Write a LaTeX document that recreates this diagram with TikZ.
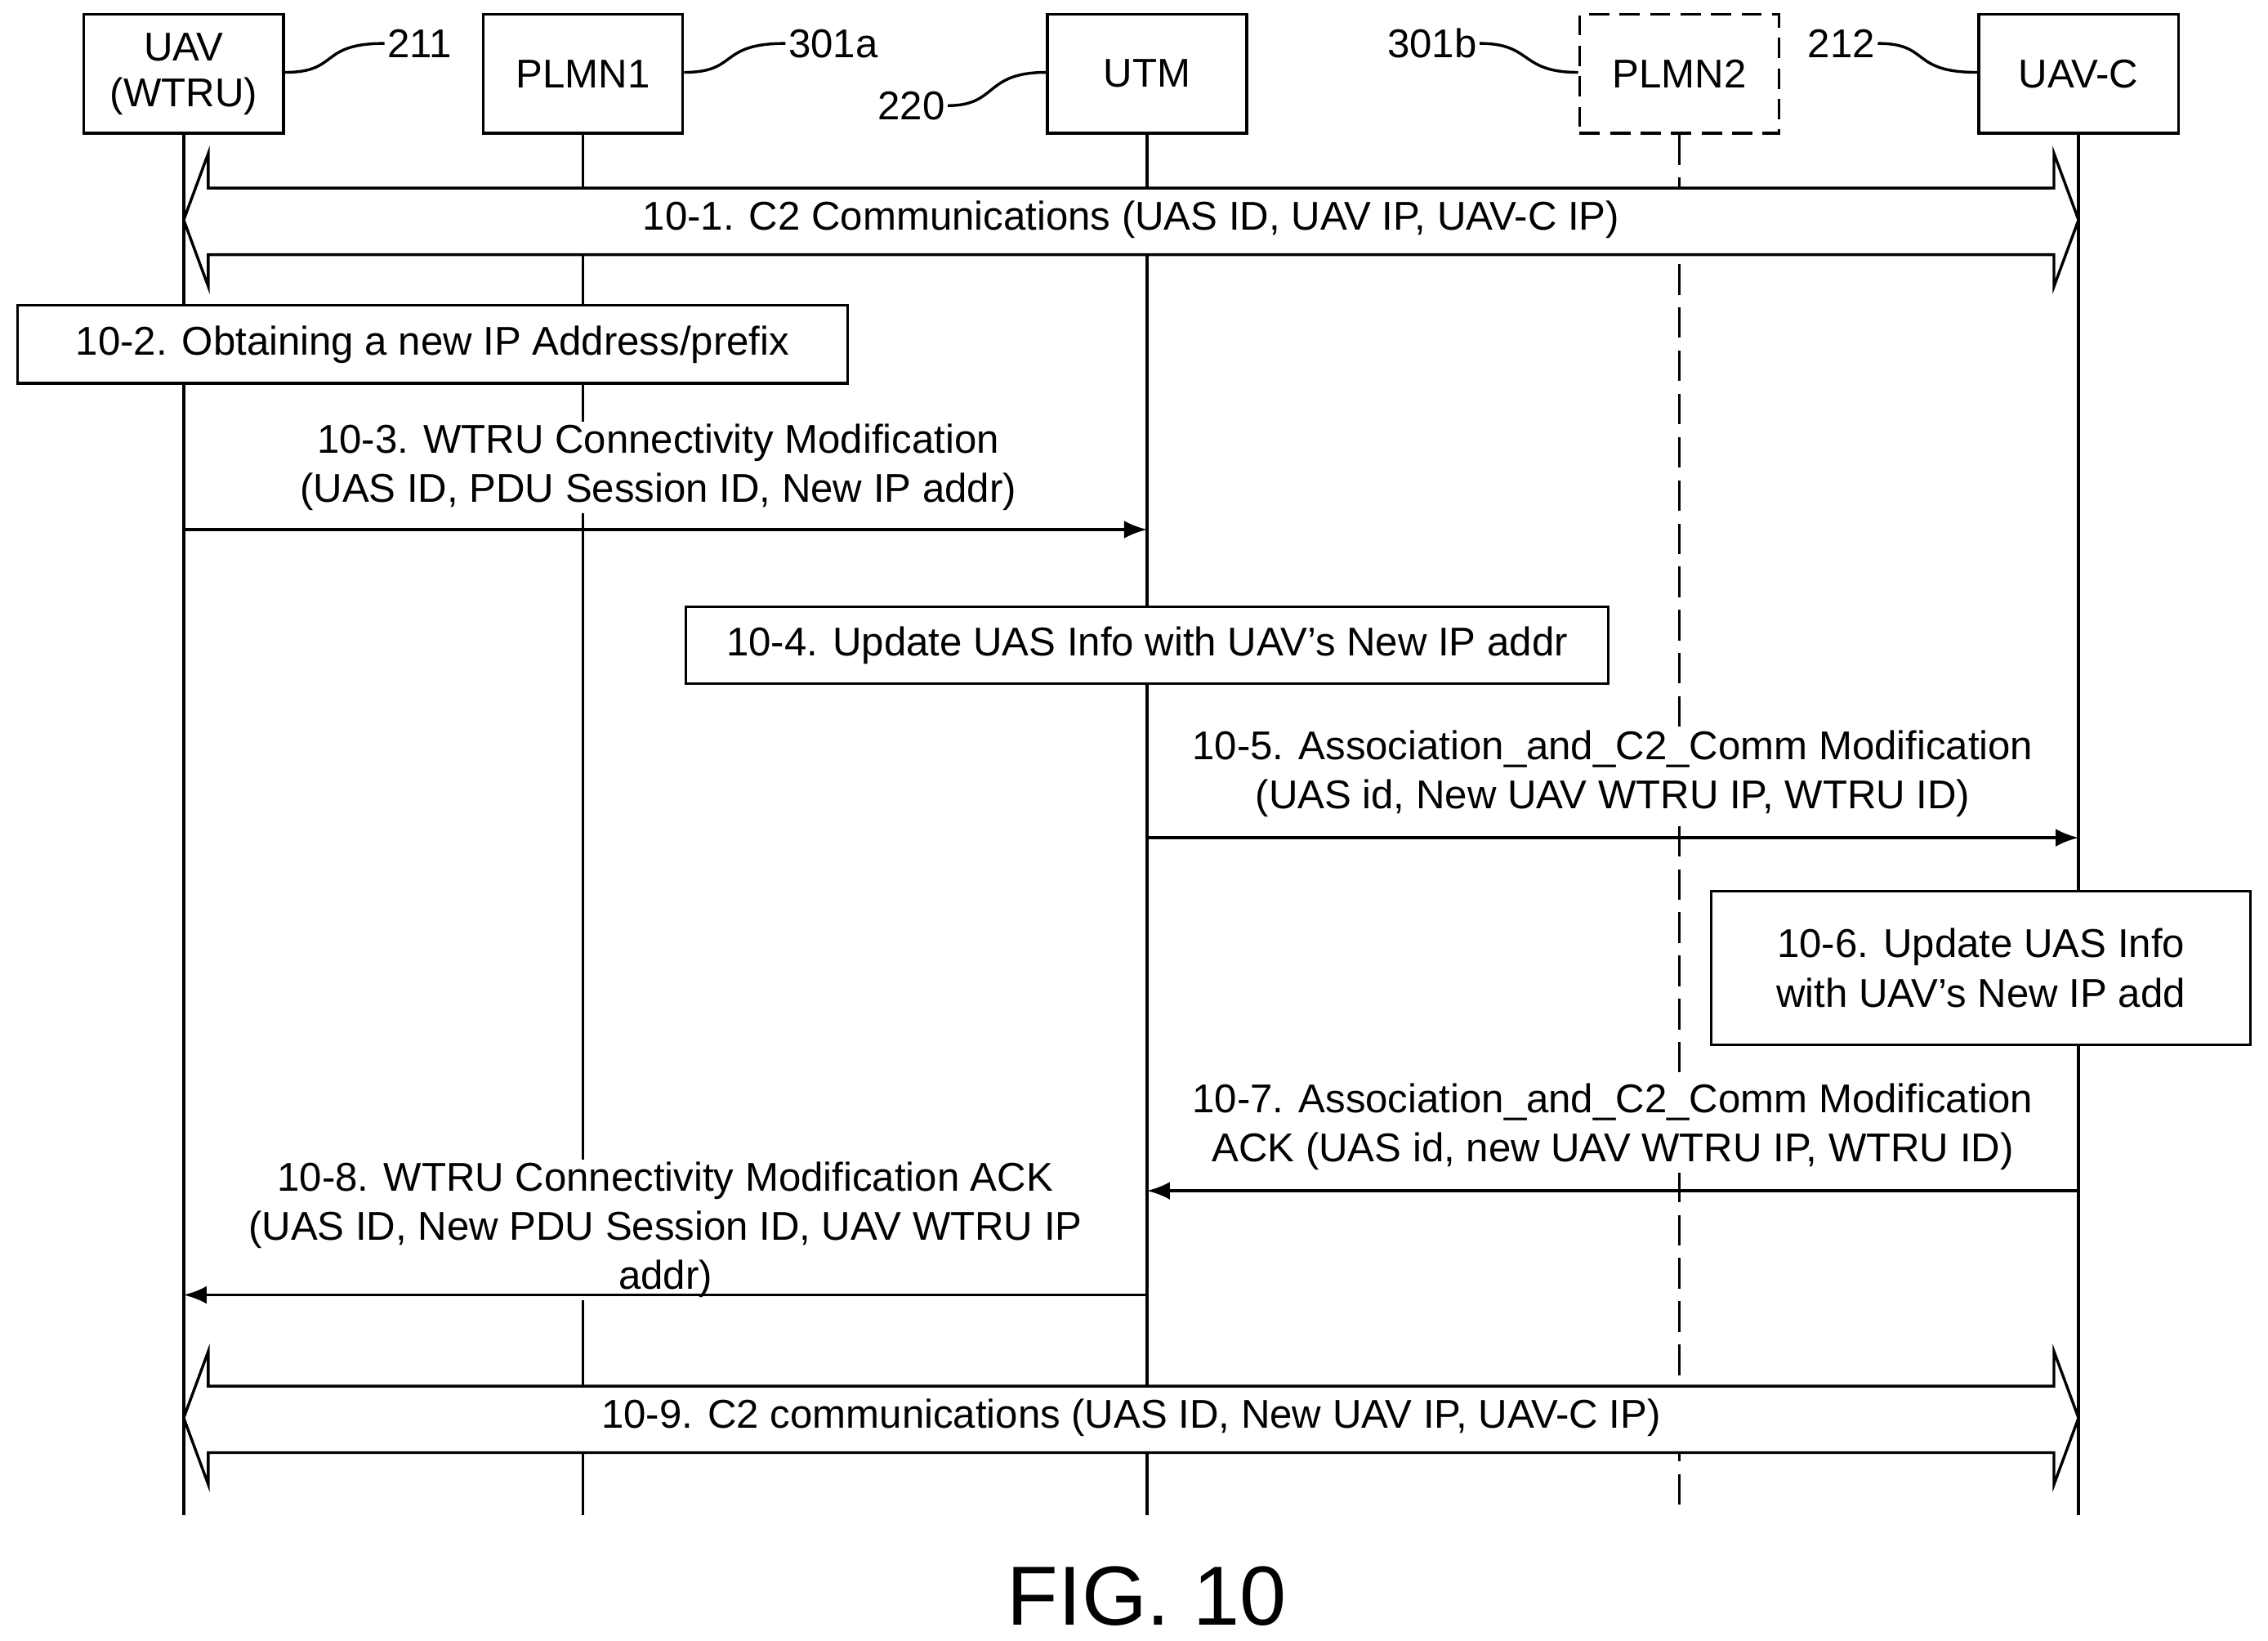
\documentclass[tikz,border=0pt]{standalone}
\usepackage{fontspec}
\setmainfont{Liberation Sans}
\usetikzlibrary{arrows.meta,positioning,calc}

\tikzset{
  ent/.style={draw,line width=1.1pt,minimum width=2.76cm,minimum height=1.64cm,align=center,font=\fontsize{15.8}{18}\selectfont},
  act/.style={draw,fill=white,line width=1.1pt,align=center,inner sep=0pt,font=\fontsize{15.8}{19.3}\selectfont},
  lbl/.style={fill=white,align=center,inner sep=1pt,font=\fontsize{15.8}{19.3}\selectfont},
  msg/.style={line width=1.1pt,-{Latex[length=9pt,width=7pt]}},
  life/.style={line width=1.1pt},
  refn/.style={inner sep=1pt,font=\fontsize{15.8}{18}\selectfont}
}

\begin{document}
\begin{tikzpicture}[x=0.02cm,y=-0.02cm]
    \useasboundingbox (0,0) rectangle (1568,1134);
    % entities
    \node[ent] (uav) at (127,51) {UAV\\(WTRU)};
    \node[ent] (plmna) at (403,51) {PLMN1};
    \node[ent] (utm) at (793,51) {UTM};
    \node[ent,dashed,dash pattern=on 8pt off 4pt] (plmnb) at (1161,51) {PLMN2};
    \node[ent] (uavc) at (1437,51) {UAV-C};
    % life lines
    \foreach \n/\x in {uav/127,plmna/403,utm/793,uavc/1437} {
      \coordinate (\n-end) at (\x,1047);
      \draw[life] (\n) -- (\n-end);
    }
    \coordinate (plmnb-end) at (1161,1047);
    \draw[life,dash pattern=on 12pt off 5pt] (plmnb) -- (plmnb-end);
    % reference numbers
    \node[refn] (n211) at (290,30) {211};
    \node[refn] (n301a) at (576,30) {301a};
    \node[refn] (n220) at (630,73) {220};
    \node[refn] (n301b) at (990,30) {301b};
    \node[refn] (n212) at (1273,30) {212};
    \draw[life] (uav.east |- 0,50) .. controls (235,50) and (220,30) .. (n211.west);
    \draw[life] (plmna.east |- 0,50) .. controls (511,50) and (496,30) .. (n301a.west);
    \draw[life] (n220.east) .. controls (690,73) and (680,50) .. (utm.west |- 0,50);
    \draw[life] (n301b.east) .. controls (1060,30) and (1050,50) .. (plmnb.west |- 0,50);
    \draw[life] (n212.east) .. controls (1335,30) and (1320,50) .. (uavc.west |- 0,50);
    % 10-1 and 10-9 block arrows
    \foreach \y/\t in {152/{10-1. C2 Communications (UAS ID, UAV IP, UAV-C IP)},
                      980/{10-9. C2 communications (UAS ID, New UAV IP, UAV-C IP)}} {
      \draw[life,fill=white,line join=miter]
        (127,\y) -- (144,\y-46) -- (144,\y-22) -- (1420,\y-22) -- (1420,\y-46)
        -- (1437,\y) -- (1420,\y+46) -- (1420,\y+24) -- (144,\y+24) -- (144,\y+46) -- cycle;
      \node[lbl] at (782,\y) {\t};
    }
    % 10-2
    \node[act,minimum width=11.48cm,minimum height=1.08cm] (s2) at (299,238) {10-2. Obtaining a new IP Address/prefix};
    % 10-3
    \node[lbl] (m3) at (455,323) {10-3. WTRU Connectivity Modification\\(UAS ID, PDU Session ID, New IP addr)};
    \draw[msg] (uav |- 0,366) -- (utm |- 0,366);
    % 10-4
    \node[act,minimum width=12.76cm,minimum height=1.06cm] (s4) at (793,446) {10-4. Update UAS Info with UAV's New IP addr};
    % 10-5
    \node[lbl] (m5) at (1115,535) {10-5. Association\_and\_C2\_Comm Modification\\(UAS id, New UAV WTRU IP, WTRU ID)};
    \draw[msg] (utm |- 0,579) -- (uavc |- 0,579);
    % 10-6
    \node[act,minimum width=7.46cm,minimum height=2.12cm] (s6) at (1369.5,669) {10-6. Update UAS Info\\with UAV's New IP add};
    % 10-7
    \node[lbl] (m7) at (1115,779) {10-7. Association\_and\_C2\_Comm Modification\\ACK (UAS id, new UAV WTRU IP, WTRU ID)};
    \draw[msg] (uavc |- 0,823) -- (utm |- 0,823);
    % 10-8
    \node[lbl] (m8) at (460,850) {10-8. WTRU Connectivity Modification ACK\\(UAS ID, New PDU Session ID, UAV WTRU IP\\addr)};
    \draw[msg] (utm |- 0,895) -- (uav |- 0,895);
    % caption
    \node[font=\fontsize{33}{38}\selectfont] (fig) at (793,1103) {FIG. 10};
\end{tikzpicture}
\end{document}
